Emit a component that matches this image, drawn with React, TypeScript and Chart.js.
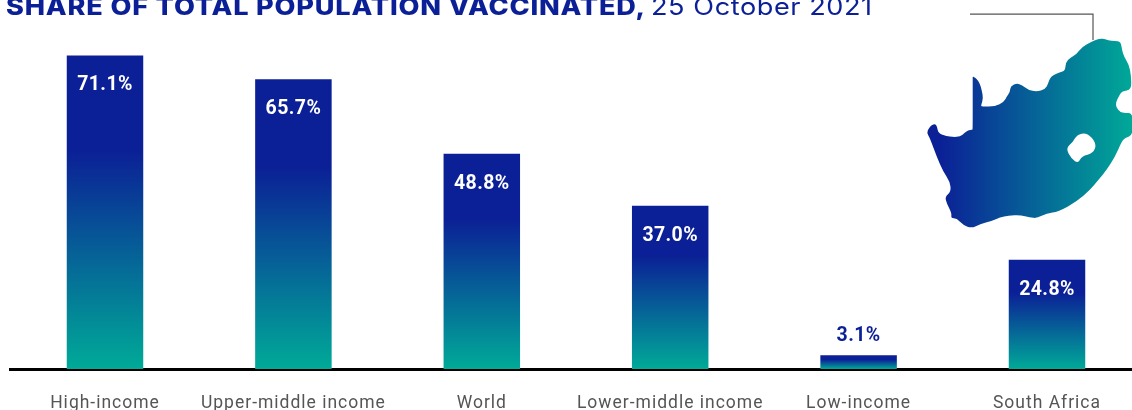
import React, { useEffect, useRef } from "react";
import { Chart, registerables } from "chart.js";

Chart.register(...registerables);

const categories = ["High-income", "Upper-middle income", "World", "Lower-middle income", "Low-income", "South Africa"];
const shareVaccinated = [71.1, 65.7, 48.8, 37.0, 3.1, 24.8];
const titleBold = "SHARE OF TOTAL POPULATION VACCINATED,";
const titleRegular = "25 October 2021";

const BLUE = "#0b1f96";
const TEAL = "#00aa98";

// Outline of South Africa, traced in page pixels (illustration, not data)
const mapOutline: [number, number][] = [
  [926.7,132.7],[929,128],[931.7,125],[935,124],[937,126],[938.3,133.3],[946.7,136],[953,137],[960,136.7],[965,132.7],[968,130.5],[972.3,129.6],[972.7,129.3],[972.7,100],
  [972.7,78],[972.7,76.5],[974,77],[977,79],[980,84],[981.7,90],[983.3,98.3],[981,105.5],[981.5,106.5],[995,106.7],[1004,102],[1006.7,96.7],[1010,92],[1010.5,86],[1016.7,83.3],[1022,85],[1028.3,90],[1036.7,91.7],[1045,89.3],[1048,84],[1050.7,76],[1061,72],[1065,70.7],[1066,62],[1070,58],[1076.7,54],[1082,47],[1091,42],[1098,39],[1104,38.5],[1108,40.5],[1115,41],[1120.7,41.7],[1122,50],[1124,56.7],[1129,65],[1131,75],[1131.5,90],[1122,91],[1119,96],[1116,102],[1116,107],[1120,112],[1125,113],[1133,113],
  [1133,135],[1125,138],[1121.7,141.7],[1115,156.7],[1106.7,170],[1098.3,180],[1090,190],[1076.7,201.7],[1058.3,211.7],[1046.7,213.3],[1036.7,218.3],[1030,217.3],[1020,215],[1008.3,215.7],[1000,217.3],[991.7,221],[980,224],[971.7,228.3],[963.3,225],[956.7,218.3],[951,218.3],[951.7,213.3],[946.7,203.3],[945,196.7],[951,191.7],[950,181.7],[943.3,171.7],[936.7,156.7],[930,138.3],
];
const lesothoHole: [number, number][] = [
  [1065.7,148.3],[1073.3,141.7],[1076.7,135],[1086.7,132.3],[1096.7,143.3],[1093.3,153.3],[1081.7,156],[1078.3,163.3],[1071.7,159.3],
];

const barGradient = (ctx: any) => {
  const { chart, dataIndex } = ctx;
  const area = chart.chartArea;
  if (!area) return BLUE;
  const y = chart.scales.y;
  const top = y.getPixelForValue(shareVaccinated[dataIndex]);
  const g = chart.ctx.createLinearGradient(0, top, 0, area.bottom);
  g.addColorStop(0, BLUE);
  g.addColorStop(0.3, BLUE);
  g.addColorStop(1, TEAL);
  return g;
};

const traceSmooth = (c: CanvasRenderingContext2D, ring: [number, number][]) => {
  const n = ring.length;
  const mid = (a: [number, number], b: [number, number]): [number, number] => [(a[0] + b[0]) / 2, (a[1] + b[1]) / 2];
  const start = mid(ring[n - 1], ring[0]);
  c.moveTo(start[0], start[1]);
  for (let i = 0; i < n; i++) {
    const m = mid(ring[i], ring[(i + 1) % n]);
    c.quadraticCurveTo(ring[i][0], ring[i][1], m[0], m[1]);
  }
  c.closePath();
};

const decorationPlugin = {
  id: "decoration",
  afterDraw(chart: any) {
    const c = chart.ctx as CanvasRenderingContext2D;
    c.save();
    // title (clipped by the page top, as in the original)
    c.textBaseline = "alphabetic";
    c.textAlign = "left";
    c.fillStyle = BLUE;
    c.save();
    c.translate(6, 15);
    c.scale(1.13, 1);
    c.font = "800 24px Inter, sans-serif";
    (c as any).letterSpacing = "0.72px";
    c.fillText(titleBold, 0, 0);
    c.restore();
    c.save();
    c.translate(651, 15);
    c.scale(1.13, 1);
    c.font = "400 24px Inter, sans-serif";
    (c as any).letterSpacing = "0.5px";
    c.fillText(titleRegular, 0, 0);
    c.restore();

    // leader line
    c.strokeStyle = "#555555";
    c.lineWidth = 1.2;
    c.beginPath();
    c.moveTo(970, 14.2);
    c.lineTo(1093, 14.2);
    c.lineTo(1093, 40);
    c.stroke();

    // map
    const g = c.createLinearGradient(926, 0, 1134, 0);
    g.addColorStop(0, BLUE);
    g.addColorStop(0.06, BLUE);
    g.addColorStop(1, TEAL);
    c.fillStyle = g;
    c.beginPath();
    traceSmooth(c, mapOutline);
    traceSmooth(c, lesothoHole);
    c.fill("evenodd");

    // value labels
    c.textAlign = "center";
    c.textBaseline = "middle";
    c.font = "700 19.5px Roboto, sans-serif";
    (c as any).letterSpacing = "0.4px";
    const meta = chart.getDatasetMeta(0);
    meta.data.forEach((bar: any, i: number) => {
      const small = shareVaccinated[i] < 5;
      c.fillStyle = small ? BLUE : "#ffffff";
      const y = small ? bar.y - 19 : bar.y + 30;
      c.fillText(`${shareVaccinated[i].toFixed(1)}%`, bar.x, y);
    });
    c.restore();
  },
};

export default function App() {
  const ref = useRef<HTMLCanvasElement>(null);
  useEffect(() => {
    if (!ref.current) return;
    const chart = new Chart(ref.current, {
      type: "bar",
      data: {
        labels: categories,
        datasets: [{
          data: shareVaccinated,
          backgroundColor: barGradient,
          barPercentage: 0.406,
          categoryPercentage: 1,
          borderWidth: 0,
        }],
      },
      options: {
        animation: false,
        responsive: false,
        layout: { padding: { left: 10.8, right: 0.8, top: 16.2, bottom: 0 } },
        plugins: { legend: { display: false }, title: { display: false }, tooltip: { enabled: false } },
        scales: {
          y: { display: false, min: 0, max: 80, grid: { display: false } },
          x: {
            grid: { display: false, drawTicks: false },
            border: { display: true, color: "#000000", width: 3 },
            ticks: {
              color: "#555555",
              font: { family: "Roboto, sans-serif", size: 17.5, weight: "400" },
              padding: 24,
              maxRotation: 0,
              autoSkip: false,
            },
          },
        },
      },
      plugins: [decorationPlugin],
    });
    return () => chart.destroy();
  }, []);
  return (
    <div style={{ position: "fixed", left: 0, top: 0, width: 1132, height: 410, overflow: "hidden", background: "#fff" }}>
      <canvas ref={ref} width={1142} height={438} style={{ display: "block", letterSpacing: "1px" }} />
    </div>
  );
}
